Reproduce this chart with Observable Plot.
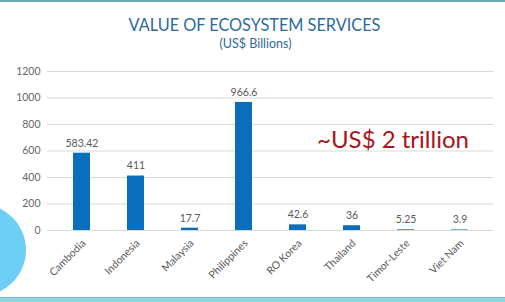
<!DOCTYPE html>
<html><head><meta charset="utf-8">
<script src="https://cdn.jsdelivr.net/npm/d3@7"></script>
<script src="https://cdn.jsdelivr.net/npm/@observablehq/plot@0.6"></script>
<style>
body{margin:0;background:#fff;}
#wrap{position:relative;width:505px;height:302px;overflow:hidden;background:#fff;font-family:Lato,"Open Sans",sans-serif;}
#topline{position:absolute;left:0;top:0;width:505px;height:2px;background:#6fa9b6;}
#circle{position:absolute;left:-66px;top:204px;width:92px;height:92px;border-radius:50%;background:#6dcff6;}
#band{position:absolute;left:0;top:297px;width:505px;height:5px;background:#8fd5df;border-top:1px solid #74bfcb;}
#title{position:absolute;left:2px;width:505px;top:15px;text-align:center;color:#2d6b9a;font-size:16.3px;}
#sub{position:absolute;left:3px;width:505px;top:36px;text-align:center;color:#2d6b9a;font-size:12.5px;}
#chart{position:absolute;left:0;top:0;}
</style></head>
<body>
<div id="wrap">
<div id="topline"></div>
<div id="circle"></div>
<div id="chart"></div>
<div id="title">VALUE OF ECOSYSTEM SERVICES</div>
<div id="sub">(US$ Billions)</div>
<div id="band"></div>
</div>
<script>
const countries = ["Cambodia","Indonesia","Malaysia","Philippines","RO Korea","Thailand","Timor-Leste","Viet Nam"];
const values = [583.42, 411, 17.7, 966.6, 42.6, 36, 5.25, 3.9];
const labels = ["583.42","411","17.7","966.6","42.6","36","5.25","3.9"];
const yTicks = [0,200,400,600,800,1000,1200];
const annotation = {text: "~US$ 2 trillion", country: "Timor-Leste", value: 680};

const data = countries.map((c,i)=>({country:c, value:values[i], label:labels[i]}));

const chart = Plot.plot({
  width: 505, height: 302,
  marginTop: 71, marginBottom: 72, marginLeft: 52, marginRight: 16,
  style: {background: "transparent", fontFamily: "Lato, 'Open Sans', sans-serif", fontSize: "10px", color: "#595959"},
  x: {domain: countries, paddingInner: 0.68, paddingOuter: 0.34, label: null},
  y: {domain: [0,1200], label: null},
  marks: [
    Plot.ruleY(yTicks, {stroke: "#d9d9d9", strokeWidth: 1, insetLeft: -5, insetRight: -4}),
    Plot.barY(data, {x: "country", y: "value", fill: "#0a6ebd"}),
    Plot.text(data, {x: "country", y: "value", text: "label", dy: -10, fill: "#595959", fontSize: 10.5}),
    Plot.axisY({ticks: yTicks, tickSize: 0, tickPadding: 12, fill: "#666666", fontSize: 10.5, tickFormat: d => String(d)}),
    Plot.axisX({tickSize: 0, tickRotate: -45, tickPadding: 11, fill: "#595959", fontSize: 10.5, dx: 2}),
    Plot.text([annotation], {x: "country", y: "value", text: "text", dx: -13, fill: "#a8141c", fontSize: 24})
  ]
});
document.getElementById("chart").appendChild(chart);
</script>
</body></html>
